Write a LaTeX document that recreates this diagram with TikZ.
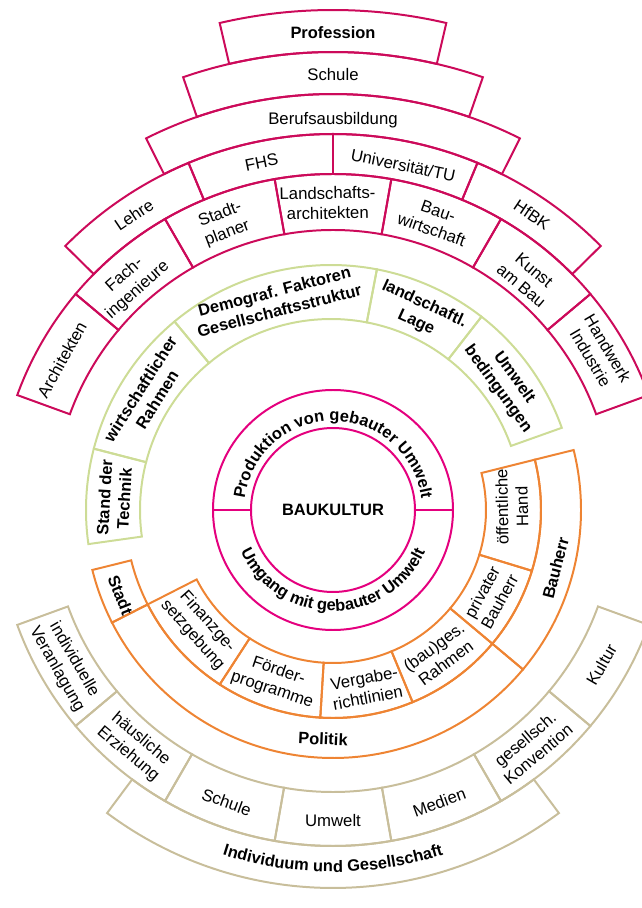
\documentclass[tikz,border=0pt]{standalone}
\usepackage{fontspec}
\setmainfont{Liberation Sans}
\usetikzlibrary{decorations.text}
\definecolor{profrot}{RGB}{204,10,90}
\definecolor{kernrot}{RGB}{228,0,126}
\definecolor{umfeldgruen}{RGB}{205,220,150}
\definecolor{bauorange}{RGB}{238,132,51}
\definecolor{gesbeige}{RGB}{200,190,155}
\newcommand{\ringfeld}[5]{%
\draw[#1] (#4:#2) arc[start angle=#4, end angle=#5, radius=#2] -- (#5:#3) arc[start angle=#5, end angle=#4, radius=#3] -- cycle;}
\tikzset{
lbl/.style={align=center, inner sep=0pt, font=\fontsize{16.8}{20}\selectfont},
blbl/.style={lbl, font=\fontsize{16.5}{20}\selectfont\bfseries},
prof/.style={draw=profrot, line width=2pt},
kern/.style={draw=kernrot, line width=2pt},
umfeld/.style={draw=umfeldgruen, line width=2pt},
bau/.style={draw=bauorange, line width=2pt},
ges/.style={draw=gesbeige, line width=2pt}
}

\begin{document}
\begin{tikzpicture}[x=1bp,y=1bp]
\useasboundingbox (-333,-398) rectangle (309,510);
\clip (-333,-398) rectangle (309,510);

\ringfeld{prof}{458}{500}{76.9}{103.1}
\ringfeld{prof}{416}{458}{70.9}{109.1}
\ringfeld{prof}{376}{416}{63.3}{116.7}
\ringfeld{prof}{336}{376}{112.6}{135.4}
\ringfeld{prof}{336}{376}{90}{112.6}
\ringfeld{prof}{336}{376}{67.4}{90}
\ringfeld{prof}{336}{376}{44.6}{67.4}
\foreach \a in {20,40,...,140} {\ringfeld{prof}{280}{336}{\a}{\a+20}}

\node[blbl] (profession) at (90:477) {Profession};
\node[lbl] (schule1) at (90:435) {Schule};
\node[lbl] (beruf) at (90:390) {Berufsausbildung};
\node[lbl, rotate=11.6] (fhs) at (101.6:355) {FHS};
\node[lbl, rotate=-11.5] (uni) at (78.5:352) {Universität/TU};
\node[lbl, rotate=34] (lehre) at (124:356) {Lehre};
\node[lbl, rotate=-34] (hfbk) at (56:356) {HfBK};
\node[lbl, rotate=61] (architekten) at (151:310) {Architekten};
\node[lbl, rotate=41.6] (faching) at (131.6:304) {Fach-\\ingenieure};
\node[lbl, rotate=20.9] (stadtplaner) at (110.9:306) {Stadt-\\planer};
\node[lbl, rotate=1] (landarch) at (91:307) {Landschafts-\\architekten};
\node[lbl, rotate=-19.4] (bauwirt) at (70.6:307) {Bau-\\wirtschaft};
\node[lbl, rotate=-40] (kunst) at (50:303) {Kunst\\am Bau};
\node[lbl, rotate=-59.5] (handwerk) at (30.5:309) {Handwerk\\Industrie};

\begin{scope}[shift={(-2,0)}]
\ringfeld{umfeld}{191}{245}{165.5}{188}
\ringfeld{umfeld}{191}{245}{129.7}{165.5}
\ringfeld{umfeld}{191}{245}{79.2}{129.7}
\ringfeld{umfeld}{191}{245}{52.1}{79.2}
\ringfeld{umfeld}{191}{245}{19.6}{52.1}
\node[blbl, rotate=14.5] (demograf) at (104.5:216) {Demograf. Faktoren\\Gesellschaftsstruktur};
\node[blbl, rotate=-24.6] (landlage) at (65.6:216) {landschaftl.\\Lage};
\node[blbl, rotate=-54] (umweltbed) at (35.9:216) {Umwelt\\bedingungen};
\node[blbl, rotate=57.6] (wirtrahmen) at (147.6:216) {wirtschaftlicher\\Rahmen};
\node[blbl, rotate=86.8] (standtechnik) at (176.8:217) {Stand der\\Technik};
\end{scope}

\draw[kern] (0,0) circle[radius=82];
\draw[kern] (0,0) circle[radius=120];
\draw[kern] (-120,0) -- (-82,0) (82,0) -- (120,0);
\node[font=\fontsize{16.5}{20}\selectfont\bfseries] (baukultur) at (0,0) {BAUKULTUR};
\path[decorate, decoration={text along path, text align=center,
  text={|\fontsize{16.5}{20}\selectfont\bfseries|Produktion von gebauter Umwelt}}]
  (180:89) arc[start angle=180, end angle=0, radius=89];
\path[decorate, decoration={text along path, text align=center,
  text={|\fontsize{16.5}{20}\selectfont\bfseries|Umgang mit gebauter Umwelt}}]
  (180:101) arc[start angle=180, end angle=360, radius=101];

\ringfeld{bau}{153}{208}{14}{-17}
\ringfeld{bau}{153}{208}{-17}{-40}
\ringfeld{bau}{153}{208}{-40}{-67.5}
\ringfeld{bau}{153}{208}{-67.5}{-93.5}
\ringfeld{bau}{153}{208}{-93.5}{-123}
\ringfeld{bau}{153}{208}{-123}{-153}
\ringfeld{bau}{208}{248}{14}{-40}
\ringfeld{bau}{208}{248}{-40}{-153}
\ringfeld{bau}{208}{248}{-153}{-166}
\node[lbl, rotate=91] (oeffhand) at (1:179) {öffentliche\\Hand};
\node[blbl, rotate=75.4] (bauherr) at (-14.6:230) {Bauherr};
\node[lbl, rotate=61.2] (privbauherr) at (-28.8:180) {privater\\Bauherr};
\node[lbl, rotate=36.4] (baugesrahmen) at (-53.6:180) {(bau)ges.\\Rahmen};
\node[lbl, rotate=10.5] (vergabe) at (-79.5:181) {Vergabe-\\richtlinien};
\node[lbl, rotate=-18.7] (foerder) at (-108.7:180) {Förder-\\programme};
\node[lbl, rotate=-48.4] (finanz) at (-138.4:178) {Finanzge-\\setzgebung};
\node[blbl, rotate=-68.2] (stadt) at (-158.2:229) {Stadt};
\node[blbl, rotate=-2.5] (politik) at (-92.5:229) {Politik};

\foreach \a in {200,220,...,320} {\ringfeld{ges}{282}{336}{\a}{\a+20}}
\ringfeld{ges}{336}{378}{233.3}{306.7}
\node[lbl, rotate=-60] (indiv) at (210:309) {individuelle\\Veranlagung};
\node[lbl, rotate=-40] (haeuslich) at (230:309) {häusliche\\Erziehung};
\node[lbl, rotate=-20] (schule2) at (250:311) {Schule};
\node[lbl] (umwelt) at (270:311) {Umwelt};
\node[lbl, rotate=20] (medien) at (290:311) {Medien};
\node[lbl, rotate=40] (konvention) at (310:309) {gesellsch.\\Konvention};
\node[lbl, rotate=60] (kultur) at (330:310) {Kultur};
\path[decorate, decoration={text along path, text align=center,
  text={|\fontsize{16.5}{20}\selectfont\bfseries|Individuum und Gesellschaft}}]
  (220:362) arc[start angle=220, end angle=320, radius=362];
\end{tikzpicture}
\end{document}
